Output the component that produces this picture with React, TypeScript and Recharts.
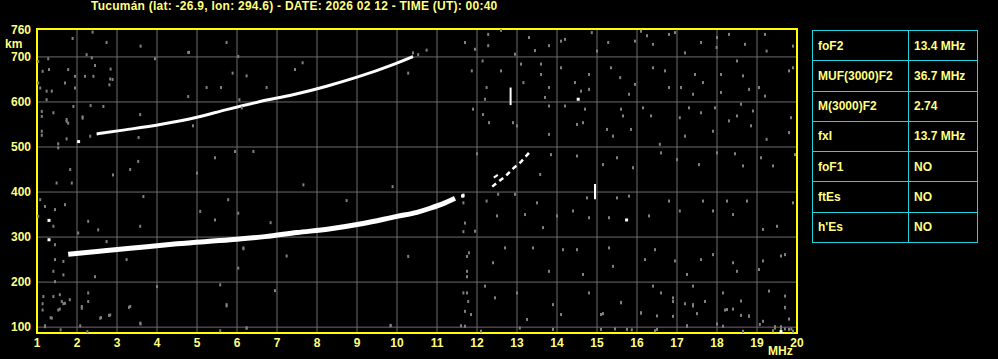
import React from "react";
import {
  ComposedChart,
  Line,
  Scatter,
  XAxis,
  YAxis,
  CartesianGrid,
  ReferenceArea,
} from "recharts";

const title = "Tucumán (lat: -26.9, lon: 294.6) - DATE: 2026 02 12 - TIME (UT): 00:40";

const freqTicks = [1, 2, 3, 4, 5, 6, 7, 8, 9, 10, 11, 12, 13, 14, 15, 16, 17, 18, 19, 20];
const heightTicks = [100, 200, 300, 400, 500, 600, 700, 760];
const gridFreqs = [2, 3, 4, 5, 6, 7, 8, 9, 10, 11, 12, 13, 14, 15, 16, 17, 18, 19];
const gridHeights = [100, 200, 300, 400, 500, 600, 700];

// ordinary F trace (MHz, km)
const f2Trace = [
  [1.78, 262], [2.5, 268], [3.33, 275], [4.5, 285], [5.83, 294], [6.7, 301],
  [7.5, 310], [8.3, 318], [9.15, 330], [10.0, 346], [10.5, 355], [10.83, 364],
  [11.2, 376], [11.45, 386],
];

// second hop trace
const f2Hop = [
  [2.49, 529], [3.2, 538], [4.08, 550], [5.0, 566], [5.74, 583], [6.58, 601],
  [7.4, 616], [8.24, 635], [9.0, 655], [9.9, 683], [10.4, 701],
];

// extraordinary fragments
const xTrace = [
  [12.38, 412], [12.55, 424], [12.7, 434], [12.9, 452], [13.1, 467], [13.33, 490],
];
const xTrace2 = [[12.42, 432], [12.52, 438]];
const bar1 = [[12.84, 593], [12.84, 632]];
const bar2 = [[14.95, 384], [14.95, 418]];

const whiteDots = [
  [2.04, 512], [1.3, 337], [1.3, 294], [14.53, 606], [15.74, 338], [11.64, 391],
  [11.65, 392], [19.6, 90],
];

const noise = [
  [11.7, 732], [12.28, 750], [12.28, 725], [12.6, 759], [11.95, 717], [12.95, 706],
  [13.3, 743], [13.45, 714], [13.8, 725], [14.1, 735], [14.2, 739], [14.87, 754],
  [15.0, 713], [15.28, 732], [15.95, 735], [16.1, 757], [16.25, 747], [16.4, 728],
  [16.8, 750], [16.95, 754], [17.2, 709], [17.6, 732], [18.0, 743], [17.99, 721],
  [18.3, 750], [18.7, 728], [19.2, 750], [19.24, 713], [19.9, 724], [11.87, 669],
  [12.14, 691], [12.24, 632], [12.2, 606], [12.6, 669], [13.1, 684], [13.16, 643],
  [13.6, 684], [13.6, 661], [13.8, 632], [13.7, 610], [14.1, 676], [14.45, 643],
  [14.6, 624], [14.8, 661], [14.8, 628], [15.35, 676], [15.58, 654], [15.95, 639],
  [15.8, 617], [16.4, 676], [16.7, 669], [16.8, 632], [17.1, 632], [17.45, 661],
  [17.4, 617], [17.65, 643], [18.1, 661], [18.1, 621], [18.5, 691], [18.65, 658],
  [18.8, 628], [19.05, 632], [19.2, 613], [19.8, 669], [19.9, 676], [11.9, 584],
  [12.15, 572], [12.3, 554], [12.9, 554], [13.0, 547], [13.8, 591], [13.8, 528],
  [14.2, 591], [14.5, 550], [14.65, 554], [14.7, 584], [15.25, 539], [15.4, 524],
  [15.6, 584], [15.65, 569], [15.85, 539], [16.15, 587], [16.35, 569], [16.57, 506],
  [17.07, 565], [17.3, 587], [17.2, 524], [17.6, 576], [17.9, 535], [17.95, 587],
  [18.3, 558], [18.5, 569], [18.6, 595], [18.85, 547], [18.9, 580], [19.24, 517],
  [19.8, 532], [19.85, 565], [12.0, 485], [13.85, 483], [14.5, 480], [15.15, 461],
  [15.5, 476], [15.9, 454], [16.6, 487], [17.0, 472], [17.55, 461], [18.0, 487],
  [18.45, 485], [18.65, 458], [19.1, 476], [19.4, 458], [19.95, 483], [13.58, 439],
  [11.66, 376], [11.95, 313], [12.24, 380], [12.5, 347], [12.53, 395], [12.95, 395],
  [13.2, 350], [13.5, 376], [13.65, 321], [14.0, 347], [14.4, 358], [14.8, 343],
  [14.75, 387], [15.3, 343], [15.5, 387], [15.8, 391], [16.3, 347], [16.8, 380],
  [17.07, 358], [17.65, 380], [17.9, 358], [18.25, 380], [18.4, 350], [18.75, 380],
  [19.15, 317], [19.5, 324], [19.9, 376], [11.8, 265], [11.75, 224], [12.4, 243],
  [12.7, 276], [13.4, 276], [13.8, 224], [14.15, 272], [14.5, 272], [14.65, 217],
  [15.3, 276], [15.4, 235], [16.2, 250], [16.45, 272], [16.95, 247], [17.25, 217],
  [17.6, 250], [17.9, 261], [18.4, 243], [18.5, 224], [19.05, 228], [19.15, 247],
  [19.6, 258], [19.7, 261], [11.75, 176], [12.2, 191], [12.45, 165], [13.0, 176],
  [13.25, 117], [13.9, 150], [14.1, 128], [14.8, 176], [15.1, 128], [15.6, 154],
  [16.1, 132], [16.4, 191], [16.6, 176], [16.9, 165], [17.4, 191], [17.4, 150],
  [18.15, 176], [18.25, 139], [18.6, 158], [18.8, 124], [19.3, 180], [19.7, 169],
  [19.7, 143], [11.85, 128], [11.7, 102], [12.1, 91], [13.07, 98], [13.9, 95],
  [15.1, 95], [15.75, 95], [16.5, 95], [17.25, 102], [18.15, 102], [18.65, 91],
  [19.07, 106], [19.45, 98], [19.6, 95], [19.8, 95], [19.9, 91],
  [1.08, 383], [1.2, 368], [1.45, 361], [1.49, 420], [1.83, 450], [1.87, 420],
  [1.7, 372], [1.03, 346], [1.41, 324], [2.28, 335], [2.03, 309], [2.53, 316],
  [1.45, 283], [1.45, 250], [1.66, 246], [1.41, 224], [1.66, 216], [2.45, 212],
  [1.45, 201], [1.16, 168], [1.41, 168], [1.57, 172], [1.7, 153], [1.82, 161],
  [1.53, 138], [2.12, 146], [2.28, 176], [1.37, 120], [2.58, 120], [1.2, 101],
  [2.08, 103], [2.83, 127], [3.33, 146], [3.58, 109], [2.74, 290], [3.24, 250],
  [2.9, 438], [3.33, 450], [3.53, 468], [3.66, 390], [3.58, 324], [5.08, 357],
  [5.45, 338], [5.45, 476], [5.78, 383], [6.03, 353], [6.03, 231], [6.16, 276],
  [5.58, 194], [5.74, 150], [4.0, 190], [5.0, 442], [5.95, 490],
  [6.41, 490], [7.66, 416], [8.74, 381], [9.89, 412], [6.84, 332], [7.24, 258],
  [10.28, 257], [6.95, 181], [9.84, 104], [6.24, 98], [11.66, 394], [11.7, 331],
  [11.66, 312], [11.75, 257], [11.75, 212], [11.66, 176], [11.78, 157], [11.7, 135],
  [11.6, 103], [6.16, 274],
  [1.03, 690], [1.14, 668], [1.3, 672], [1.03, 642], [1.08, 631], [1.24, 624],
  [1.37, 624], [1.24, 605], [1.12, 579], [1.12, 568], [1.41, 576], [1.28, 696],
  [1.78, 672], [1.7, 642], [1.95, 657], [1.95, 631], [1.91, 590], [1.74, 561],
  [1.78, 553], [1.12, 535], [1.12, 526], [1.53, 507], [1.74, 518], [1.53, 498],
  [2.33, 524], [2.14, 567], [2.2, 657], [2.37, 698], [2.24, 705], [1.89, 741],
  [2.39, 755], [2.74, 732], [2.83, 651], [2.45, 681], [3.59, 724], [2.84, 673],
  [2.41, 657], [2.81, 638], [2.89, 650], [1.74, 557], [2.14, 564], [2.34, 592],
  [2.66, 590], [4.78, 710], [4.78, 612], [5.24, 632], [5.6, 632], [5.74, 732],
  [6.03, 701], [5.89, 664], [6.24, 658], [6.74, 632], [7.45, 672], [7.64, 687],
  [10.28, 664], [10.74, 715], [10.4, 709], [10.53, 705], [4.9, 547], [3.95, 696],
  [3.54, 521], [3.58, 572], [6.06, 605], [6.12, 587], [4.8, 710],
  [1.14, 152], [1.62, 157], [1.66, 152], [1.14, 138], [1.34, 121], [1.57, 140],
  [2.12, 142], [2.28, 157], [2.6, 121], [2.8, 126], [3.3, 144], [3.59, 107],
  [5.74, 147], [6.24, 98], [5.58, 92], [1.2, 103], [9.84, 103], [2.26, 90], [1.59, 94],
  [15.6, 155], [16.9, 157], [17.2, 152], [17.4, 147], [17.7, 157], [16.1, 131],
  [16.5, 125], [16.9, 124], [17.5, 130], [18.2, 138], [18.4, 140], [18.6, 126],
  [18.8, 125], [19.7, 144], [19.8, 118], [19.15, 113], [15.15, 130], [17.25, 103],
  [18.0, 107], [19.45, 101], [19.6, 101], [19.7, 96], [19.86, 96], [19.4, 92],
  [15.45, 96], [15.87, 94], [16.45, 92], [18.65, 90],
];

const paramNames = ["foF2", "MUF(3000)F2", "M(3000)F2", "fxI", "foF1", "ftEs", "h'Es"];
const paramValues = ["13.4 MHz", "36.7 MHz", "2.74", "13.7 MHz", "NO", "NO", "NO"];

const toPts = (arr: number[][]) => arr.map(([f, h]) => ({ f, h }));

const YELLOW_TEXT = "#ffff80";
const FONT = "'Liberation Sans', Arial, sans-serif";

const GrayDot = (props: any) => {
  const { cx, cy } = props;
  if (cx == null || cy == null) return null;
  return <rect x={cx - 1} y={cy - 1.5} width={2} height={3} fill="#808080" />;
};
const WhiteDot = (props: any) => {
  const { cx, cy } = props;
  if (cx == null || cy == null) return null;
  return <rect x={cx - 1.5} y={cy - 1.5} width={3} height={3} fill="#ffffff" />;
};

const tickStyle = { fill: YELLOW_TEXT, fontSize: 12, fontWeight: 700, fontFamily: FONT };

export default function App() {
  return (
    <div
      style={{
        position: "absolute",
        left: 0,
        top: 0,
        width: 998,
        height: 359,
        background: "#000",
        fontFamily: FONT,
        overflow: "hidden",
      }}
    >
      <div
        style={{
          position: "absolute",
          left: 91,
          top: -1,
          color: YELLOW_TEXT,
          fontSize: 12,
          fontWeight: 700,
          letterSpacing: 0.25,
          whiteSpace: "nowrap",
        }}
      >
        {title}
      </div>
      <div
        style={{
          position: "absolute",
          left: 5,
          top: 37,
          color: YELLOW_TEXT,
          fontSize: 12,
          fontWeight: 700,
        }}
      >
        km
      </div>
      <div
        style={{
          position: "absolute",
          left: 768,
          top: 344,
          color: YELLOW_TEXT,
          fontSize: 12,
          fontWeight: 700,
        }}
      >
        MHz
      </div>

      <div style={{ position: "absolute", left: 0, top: 0 }}>
        <ComposedChart
          width={812}
          height={359}
          margin={{ top: 29, right: 15, left: 0, bottom: 0 }}
        >
          <CartesianGrid
            stroke="#6c6c6c"
            strokeWidth={1}
            horizontalValues={gridHeights}
            verticalValues={gridFreqs}
          />
          <XAxis
            type="number"
            dataKey="f"
            domain={[1, 20]}
            ticks={freqTicks}
            interval={0}
            allowDataOverflow
            axisLine={false}
            tickLine={false}
            tickSize={0}
            tickMargin={5}
            height={26}
            tick={tickStyle}
          />
          <YAxis
            type="number"
            dataKey="h"
            domain={[87, 762]}
            ticks={heightTicks}
            interval={0}
            allowDataOverflow
            axisLine={false}
            tickLine={false}
            tickSize={0}
            tickMargin={6}
            width={37}
            tick={tickStyle}
          />
          <Scatter data={toPts(noise)} dataKey="h" shape={GrayDot} isAnimationActive={false} />
          <Line
            data={toPts(f2Trace)}
            dataKey="h"
            type="monotone"
            stroke="#ffffff"
            strokeWidth={5}
            dot={false}
            isAnimationActive={false}
          />
          <Line
            data={toPts(f2Hop)}
            dataKey="h"
            type="monotone"
            stroke="#ffffff"
            strokeWidth={3}
            dot={false}
            isAnimationActive={false}
          />
          <Line
            data={toPts(xTrace)}
            dataKey="h"
            type="linear"
            stroke="#ffffff"
            strokeWidth={2.5}
            strokeDasharray="5 4"
            dot={false}
            isAnimationActive={false}
          />
          <Line
            data={toPts(xTrace2)}
            dataKey="h"
            type="linear"
            stroke="#ffffff"
            strokeWidth={2}
            dot={false}
            isAnimationActive={false}
          />
          <Line
            data={toPts(bar1)}
            dataKey="h"
            type="linear"
            stroke="#ffffff"
            strokeWidth={2}
            dot={false}
            isAnimationActive={false}
          />
          <Line
            data={toPts(bar2)}
            dataKey="h"
            type="linear"
            stroke="#ffffff"
            strokeWidth={2}
            dot={false}
            isAnimationActive={false}
          />
          <Scatter data={toPts(whiteDots)} dataKey="h" shape={WhiteDot} isAnimationActive={false} />
          <ReferenceArea
            x1={1}
            x2={20}
            y1={87}
            y2={762}
            fill="none"
            fillOpacity={0}
            stroke="#ffff00"
            strokeWidth={2}
            ifOverflow="visible"
          />
        </ComposedChart>
      </div>

      <table
        style={{
          position: "absolute",
          left: 812,
          top: 30,
          width: 166,
          height: 213,
          borderCollapse: "collapse",
          color: YELLOW_TEXT,
          fontSize: 12,
          fontWeight: 700,
        }}
      >
        <tbody>
          {paramNames.map((name, i) => (
            <tr key={name}>
              <td
                style={{
                  border: "1px solid #1fd4e0",
                  width: 90,
                  padding: "0 0 0 5px",
                  height: 29,
                }}
              >
                {name}
              </td>
              <td style={{ border: "1px solid #1fd4e0", padding: "0 0 0 5px" }}>
                {paramValues[i]}
              </td>
            </tr>
          ))}
        </tbody>
      </table>
    </div>
  );
}
